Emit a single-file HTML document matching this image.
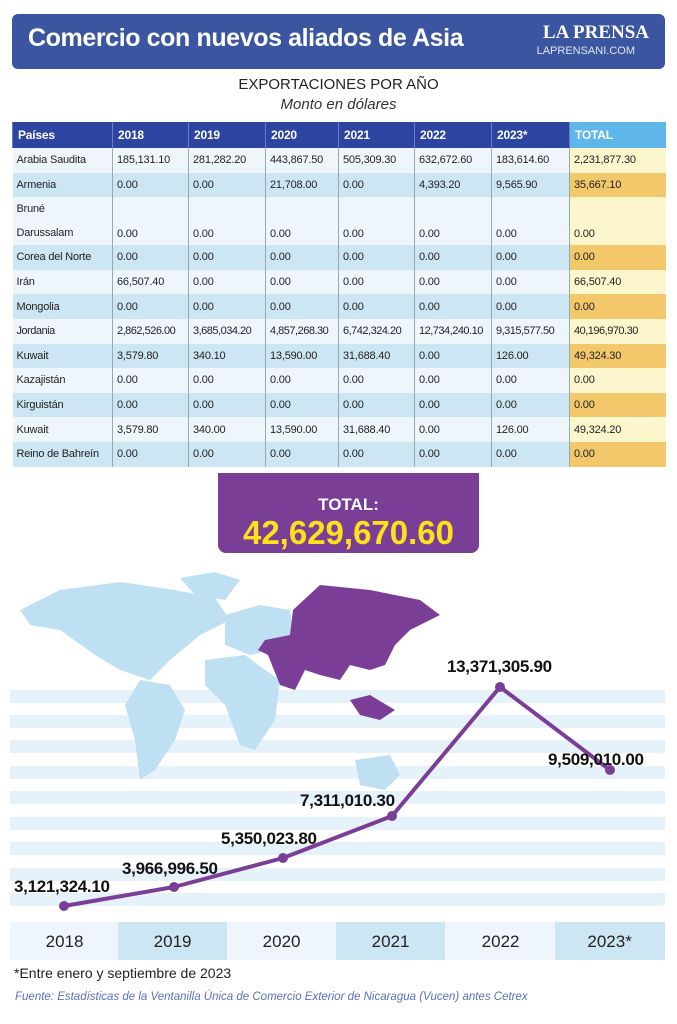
<!DOCTYPE html>
<html><head><meta charset="utf-8"><style>
*{margin:0;padding:0;box-sizing:border-box}
body{width:677px;height:1024px;background:#fff;font-family:"Liberation Sans",sans-serif;position:relative;overflow:hidden}
.hdr{position:absolute;left:12px;top:14px;width:653px;height:55px;background:#3c55a1;border-radius:6px}
.hdr h1{position:absolute;left:16px;top:10px;color:#fff;font-size:25px;font-weight:bold;letter-spacing:-0.4px}
.lp{position:absolute;right:16px;top:8px;color:#fff;font-family:"Liberation Serif",serif;font-weight:bold;font-size:19px}
.lp2{position:absolute;right:30px;top:31px;color:#dfe5f3;font-size:11px}
.t1{position:absolute;top:76px;width:677px;text-align:center;font-size:15px;color:#222}
.t2{position:absolute;top:96px;width:677px;text-align:center;font-size:15px;font-style:italic;color:#333}
table{position:absolute;left:12px;top:122px;width:653px;table-layout:fixed;border-collapse:collapse;font-size:11px;color:#222;letter-spacing:-0.2px}
td{padding:0 4px;border-left:1px solid #9aa;height:24.6px;white-space:nowrap;overflow:hidden}
td:first-child{border-left:none}
th{background:#2d44a0;color:#fff;text-align:left;padding:0 5px;height:26px;border-left:1px solid #6a7bc0;font-size:12px}
th.tot{background:#5fb6e8}
tr.a td{background:#eef6fc}tr.b td{background:#cde6f3}
tr.a td.t{background:#fcf6cc}tr.b td.t{background:#f2c86a}
.tb{position:absolute;left:218px;top:473px;width:261px;height:80px;background:#7b3e97;border-radius:0 0 8px 8px;text-align:center;color:#fff}
.tb .l{font-size:17px;font-weight:bold;margin-top:22px}
.tb .v{font-size:33px;font-weight:bold;color:#ffe11a;line-height:36px}
.lbl{position:absolute;font-size:17px;font-weight:bold;color:#111;letter-spacing:-0.3px}
.yr{position:absolute;top:922px;height:38px;width:109.2px;text-align:center;line-height:40px;font-size:17px;color:#222}
</style></head><body>
<div class="hdr"><h1>Comercio con nuevos aliados de Asia</h1><div class="lp">LA PRENSA</div><div class="lp2">LAPRENSANI.COM</div></div>
<div class="t1">EXPORTACIONES POR AÑO</div>
<div class="t2">Monto en dólares</div>
<table>
<colgroup><col style="width:100px"><col style="width:76px"><col style="width:77px"><col style="width:73px"><col style="width:76px"><col style="width:77px"><col style="width:78px"><col style="width:96px"></colgroup>
<tr><th>Países</th><th>2018</th><th>2019</th><th>2020</th><th>2021</th><th>2022</th><th>2023*</th><th class="tot">TOTAL</th></tr>
<tr class="a"><td>Arabia Saudita</td><td>185,131.10</td><td>281,282.20</td><td>443,867.50</td><td>505,309.30</td><td>632,672.60</td><td>183,614.60</td><td class="t">2,231,877.30</td></tr>
<tr class="b"><td>Armenia</td><td>0.00</td><td>0.00</td><td>21,708.00</td><td>0.00</td><td>4,393.20</td><td>9,565.90</td><td class="t">35,667.10</td></tr>
<tr class="a"><td style="height:48px;line-height:24px">Bruné<br>Darussalam</td><td style="vertical-align:bottom;padding-bottom:5px">0.00</td><td style="vertical-align:bottom;padding-bottom:5px">0.00</td><td style="vertical-align:bottom;padding-bottom:5px">0.00</td><td style="vertical-align:bottom;padding-bottom:5px">0.00</td><td style="vertical-align:bottom;padding-bottom:5px">0.00</td><td style="vertical-align:bottom;padding-bottom:5px">0.00</td><td class="t" style="vertical-align:bottom;padding-bottom:5px">0.00</td></tr>
<tr class="b"><td>Corea del Norte</td><td>0.00</td><td>0.00</td><td>0.00</td><td>0.00</td><td>0.00</td><td>0.00</td><td class="t">0.00</td></tr>
<tr class="a"><td>Irán</td><td>66,507.40</td><td>0.00</td><td>0.00</td><td>0.00</td><td>0.00</td><td>0.00</td><td class="t">66,507.40</td></tr>
<tr class="b"><td>Mongolia</td><td>0.00</td><td>0.00</td><td>0.00</td><td>0.00</td><td>0.00</td><td>0.00</td><td class="t">0.00</td></tr>
<tr class="a" style="letter-spacing:-0.5px"><td>Jordania</td><td>2,862,526.00</td><td>3,685,034.20</td><td>4,857,268.30</td><td>6,742,324.20</td><td>12,734,240.10</td><td>9,315,577.50</td><td class="t">40,196,970.30</td></tr>
<tr class="b"><td>Kuwait</td><td>3,579.80</td><td>340.10</td><td>13,590.00</td><td>31,688.40</td><td>0.00</td><td>126.00</td><td class="t">49,324.30</td></tr>
<tr class="a"><td>Kazajistán</td><td>0.00</td><td>0.00</td><td>0.00</td><td>0.00</td><td>0.00</td><td>0.00</td><td class="t">0.00</td></tr>
<tr class="b"><td>Kirguistán</td><td>0.00</td><td>0.00</td><td>0.00</td><td>0.00</td><td>0.00</td><td>0.00</td><td class="t">0.00</td></tr>
<tr class="a"><td>Kuwait</td><td>3,579.80</td><td>340.00</td><td>13,590.00</td><td>31,688.40</td><td>0.00</td><td>126.00</td><td class="t">49,324.20</td></tr>
<tr class="b"><td>Reino de Bahreín</td><td>0.00</td><td>0.00</td><td>0.00</td><td>0.00</td><td>0.00</td><td>0.00</td><td class="t">0.00</td></tr>
</table>
<div class="tb"><div class="l">TOTAL:</div><div class="v">42,629,670.60</div></div>
<svg style="position:absolute;left:0;top:560px" width="677" height="360">
<g fill="#e6f2fa">
<rect x="10" y="130" width="655" height="13"/><rect x="10" y="155" width="655" height="13"/><rect x="10" y="180" width="655" height="13"/><rect x="10" y="206" width="655" height="13"/><rect x="10" y="231" width="655" height="13"/><rect x="10" y="257" width="655" height="13"/><rect x="10" y="282" width="655" height="13"/><rect x="10" y="308" width="655" height="13"/><rect x="10" y="333" width="655" height="13"/>
</g>
<g fill="#bfe0f3">
<path d="M20 50 L60 30 L120 22 L175 30 L215 38 L230 60 L200 75 L170 100 L150 120 L120 110 L95 95 L60 70 L30 65Z"/>
<path d="M180 18 L215 12 L240 20 L225 40 L195 35Z"/>
<path d="M140 120 L170 125 L185 150 L175 180 L155 210 L140 220 L135 180 L125 145Z"/>
<path d="M205 100 L245 95 L265 110 L280 120 L275 160 L255 190 L240 185 L225 145 L205 125Z"/>
<path d="M225 55 L260 45 L290 50 L295 85 L250 95 L225 85Z"/>
<path d="M355 200 L390 195 L400 215 L385 230 L360 225Z"/>
</g>
<g fill="#7b3e97">
<path d="M293 50 L320 25 L370 30 L420 40 L440 55 L410 70 L395 85 L385 105 L370 110 L350 105 L340 120 L320 115 L305 110 L295 130 L280 125 L268 95 L258 90 L265 80 L290 75Z"/>
<path d="M350 140 L370 135 L395 150 L380 160 L360 155Z"/>
</g>
</svg>
<div style="position:absolute;left:10px;top:922px;width:655px;height:38px;background:#eef6fc"></div>
<div style="position:absolute;left:118px;top:922px;width:109px;height:38px;background:#cde6f3"></div>
<div style="position:absolute;left:336px;top:922px;width:109px;height:38px;background:#cde6f3"></div>
<div style="position:absolute;left:555px;top:922px;width:110px;height:38px;background:#cde6f3"></div>
<div class="yr" style="left:10px">2018</div><div class="yr" style="left:118px">2019</div><div class="yr" style="left:227px">2020</div><div class="yr" style="left:336px">2021</div><div class="yr" style="left:446px">2022</div><div class="yr" style="left:555px">2023*</div>
<svg style="position:absolute;left:0;top:0" width="677" height="1024">
<polyline points="64,906 174,887 283,858 392,816 500,687 610,770" fill="none" stroke="#7b3e97" stroke-width="4" stroke-linejoin="round"/>
<g fill="#7b3e97"><circle cx="64" cy="906" r="5"/><circle cx="174" cy="887" r="5"/><circle cx="283" cy="858" r="5"/><circle cx="392" cy="816" r="5"/><circle cx="500" cy="687" r="5"/><circle cx="610" cy="770" r="5"/></g>
</svg>
<div class="lbl" style="left:14px;top:877px">3,121,324.10</div>
<div class="lbl" style="left:122px;top:859px">3,966,996.50</div>
<div class="lbl" style="left:221px;top:829px">5,350,023.80</div>
<div class="lbl" style="left:300px;top:791px">7,311,010.30</div>
<div class="lbl" style="left:447px;top:657px">13,371,305.90</div>
<div class="lbl" style="left:548px;top:750px">9,509,010.00</div>
<div style="position:absolute;left:14px;top:965px;font-size:14px;color:#222">*Entre enero y septiembre de 2023</div>
<div style="position:absolute;left:15px;top:991px;font-size:11.5px;font-style:italic;color:#5a6fc0">Fuente: Estadísticas de la Ventanilla Única de Comercio Exterior de Nicaragua (Vucen) antes Cetrex</div>
</body></html>
